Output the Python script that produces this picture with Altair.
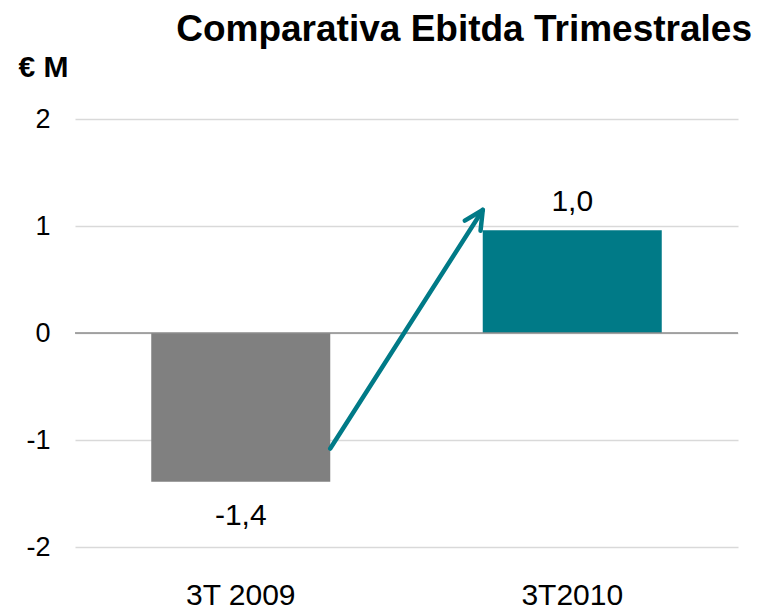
import math
import altair as alt
import pandas as pd

# ---- data ----
categories = ["3T 2009", "3T2010"]
values = [-1.39, 0.96]
bar_colors = ["#808080", "#007A87"]
labels = [f"{v:.1f}".replace(".", ",") for v in values]

# arrow annotation (band units on x, data units on y)
arrow_x = [0.77, 1.23]
arrow_y = [-1.08, 1.15]

y_ticks = [-2, -1, 0, 1, 2]

FONT = "Liberation Sans"
TEAL = "#007A87"

W, H = 663, 428
PX_PER_BAND = W / 2.0
PX_PER_UNIT = H / 4.0

bars_df = pd.DataFrame({"cat": categories, "value": values, "color": bar_colors, "label": labels})
arrow_df = pd.DataFrame({"x0": [arrow_x[0]], "x1": [arrow_x[1]], "y0": [arrow_y[0]], "y1": [arrow_y[1]]})

angle = math.degrees(math.atan2((arrow_x[1] - arrow_x[0]) * PX_PER_BAND,
                                (arrow_y[1] - arrow_y[0]) * PX_PER_UNIT))

x_enc = alt.X("cat:N", sort=categories,
              scale=alt.Scale(paddingInner=0.46, paddingOuter=0.23),
              axis=alt.Axis(title=None, labelAngle=0, labelFontSize=30, labelFont=FONT,
                            labelColor="black", ticks=False, domain=False, labelPadding=33))
y_enc = alt.Y("value:Q", scale=alt.Scale(domain=[-2, 2], nice=False),
              axis=alt.Axis(values=y_ticks, labelExpr="'' + datum.value",
                            title="€ M", titleAngle=0, titleAlign="left",
                            titleBaseline="alphabetic", titleX=-57, titleY=-43,
                            titleFontSize=30, titleFont=FONT, titleFontWeight="bold",
                            titleColor="black",
                            labelFontSize=27, labelFont=FONT, labelColor="black",
                            labelPadding=25, ticks=False, domain=False,
                            grid=True, gridColor="#d9d9d9", gridWidth=1.5))

base = alt.Chart(bars_df)
bars = base.mark_bar().encode(x=x_enc, y=y_enc, color=alt.Color("color:N", scale=None))

lab_neg = base.transform_filter("datum.value < 0").mark_text(
    fontSize=30, font=FONT, color="black", baseline="alphabetic", dy=43
).encode(x=alt.X("cat:N", sort=categories), y="value:Q", text="label:N")
lab_pos = base.transform_filter("datum.value >= 0").mark_text(
    fontSize=30, font=FONT, color="black", baseline="alphabetic", dy=-19
).encode(x=alt.X("cat:N", sort=categories), y="value:Q", text="label:N")

zero = alt.Chart(pd.DataFrame({"z": [0]})).mark_rule(color="#8c8c8c", strokeWidth=1.5).encode(y="z:Q")

main = alt.layer(bars, zero, lab_neg, lab_pos)

ax = alt.Scale(domain=[0, 2], nice=False, zero=False)
arrow_base = alt.Chart(arrow_df)
shaft = arrow_base.mark_rule(color=TEAL, strokeWidth=4.5, strokeCap="round").encode(
    x=alt.X("x0:Q", scale=ax, axis=None), x2="x1:Q",
    y=alt.Y("y0:Q"), y2="y1:Q")
head = arrow_base.mark_point(shape="M -0.5 1 L 0 0 L 0.5 1", filled=False, stroke=TEAL,
                             strokeWidth=4.5, strokeCap="round", strokeJoin="round",
                             size=1400, angle=angle, opacity=1).encode(
    x=alt.X("x1:Q", scale=ax, axis=None), y=alt.Y("y1:Q"))
arrow = alt.layer(shaft, head)

chart = alt.layer(main, arrow).resolve_scale(x="independent").properties(
    width=W, height=H,
    title=alt.TitleParams("Comparativa Ebitda Trimestrales", anchor="end", frame="group",
                          fontSize=37, font=FONT, fontWeight="bold", color="black",
                          dx=14, offset=3),
    autosize=alt.AutoSizeParams(type="none"),
    padding={"left": 67, "top": 111, "right": 26, "bottom": 62},
).configure_view(stroke=None)

chart.save("out.html", embed_options={"renderer": "svg", "actions": False})
